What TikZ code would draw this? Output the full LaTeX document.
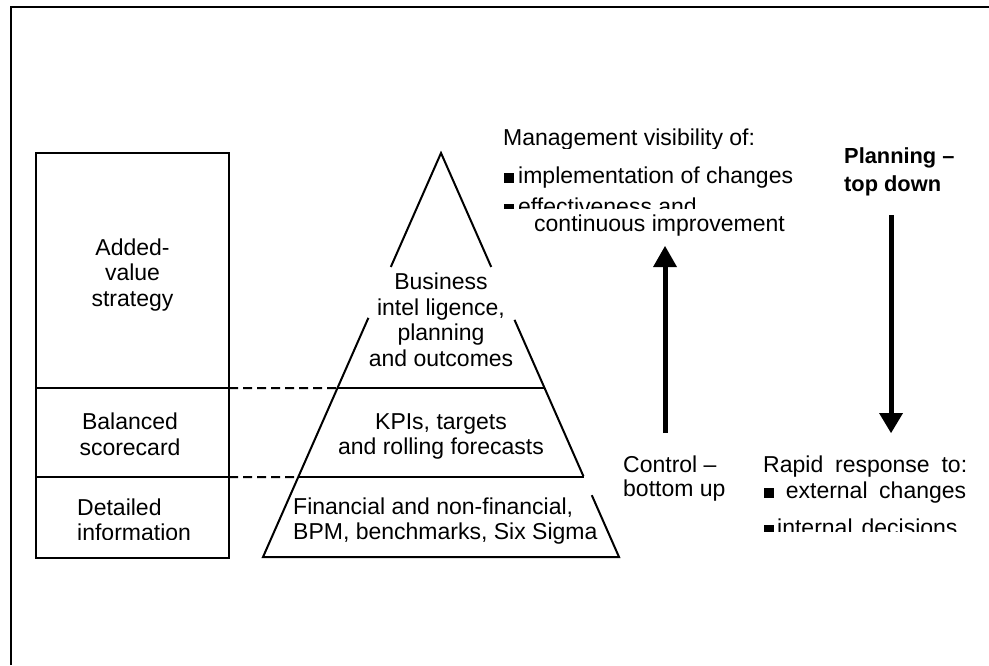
\documentclass[tikz,border=0pt]{standalone}
\usepackage{fontspec}
\setmainfont{Liberation Sans}
\usetikzlibrary{calc}

\newcommand{\sqbul}{\rule{10pt}{10pt}}

\begin{document}
\begin{tikzpicture}[scale=0.35146]
			\tikzstyle{every node}+=[inner sep=0pt]
			\tikzstyle{txt}=[font=\fontsize{23}{25.5}\selectfont, align=center]
			\tikzstyle{txtl}=[font=\fontsize{23}{25.5}\selectfont, align=left]
			\tikzstyle{bold}=[font=\fontsize{21.8}{27.4}\selectfont\bfseries, align=left]
			\tikzstyle{ln}=[black, line width=2pt]
			\useasboundingbox (0,0) rectangle (98.9,-66.5);
			% frame
			\draw [ln] (1.07,-66.5) -- (1.07,-0.7) -- (98.9,-0.7);
			% left column
			\draw [ln] (3.6,-15.3) rectangle (22.9,-55.75);
			\draw [ln] (3.6,-38.8) -- (22.9,-38.8);
			\draw [ln] (3.6,-47.7) -- (22.9,-47.7);
			\node [txt] (addval) at (13.25,-27.46) {Added-\\value\\strategy};
			\node [txt] (bsc) at (13.0,-43.45) {Balanced\\scorecard};
			\begin{scope}
				\clip (3.7,-48) rectangle (22.8,-53.95);
				\node [txtl, anchor=north west] (detail) at (7.7,-49.86) {Detailed\\information};
			\end{scope}
			% pyramid
			\coordinate (apex) at (44.1,-15.3);
			\coordinate (bl) at (26.3,-55.7);
			\coordinate (br) at (61.9,-55.7);
			\draw [ln, line join=miter] ($(apex)!0.282!(bl)$) -- (apex) -- ($(apex)!0.282!(br)$);
			\draw [ln, line join=miter] ($(apex)!0.408!(bl)$) -- (bl) -- (br) -- ($(apex)!0.847!(br)$);
			\draw [ln] ($(apex)!0.80!(br)$) -- ($(apex)!0.413!(br)$);
			\draw [ln] ($(apex)!0.5817!(bl)$) -- ($(apex)!0.5817!(br)$);
			\draw [ln] ($(apex)!0.802!(bl)$) -- ($(apex)!0.802!(br)$);
			\draw [ln, dash pattern=on 9pt off 5pt] (22.9,-38.8) -- ($(apex)!0.5817!(bl)$);
			\draw [ln, dash pattern=on 9pt off 5pt] (22.9,-47.7) -- ($(apex)!0.802!(bl)$);
			\node [txt] (bi) at (44.1,-31.99) {Business\\intel ligence,\\planning\\and outcomes};
			\node [txt] (kpi) at (44.1,-43.66) {KPIs, targets\\and rolling forecasts};
			\node [txtl, anchor=north west] (fin) at (29.3,-49.76) {Financial and non-financial,\\BPM, benchmarks, Six Sigma};
			% management visibility
			\begin{scope}
				\clip (45,-10) rectangle (82,-14.8);
				\node [txtl, anchor=base west] (mgmt) at (50.3,-14.57) {Management visibility of:};
			\end{scope}
			\node [txtl, anchor=base west] (impl) at (50.4,-18.3) {\sqbul\hspace{4pt}implementation of changes};
			\begin{scope}
				\clip (45,-18.9) rectangle (82,-20.8);
				\node [txtl, anchor=base west] (eff) at (50.4,-21.4) {\sqbul\hspace{4pt}effectiveness and};
			\end{scope}
			\node [txtl, anchor=base west] (cont) at (53.4,-23.1) {continuous improvement};
			% planning
			\node [bold, anchor=north west] (plan) at (84.4,-14.76) {Planning --\\top down};
			% arrows
			\coordinate (uptail) at (66.5,-43.3);
			\coordinate (uphead) at (66.5,-26.7);
			\coordinate (uptip) at (66.5,-24.6);
			\draw [black, line width=5pt] (uptail) -- (uphead);
			\fill [black] (uptip) -- ($(uphead)+(-1.2,0)$) -- ($(uphead)+(1.2,0)$) -- cycle;
			\coordinate (dntail) at (89.1,-21.5);
			\coordinate (dnhead) at (89.1,-41.3);
			\coordinate (dntip) at (89.1,-43.3);
			\draw [black, line width=5pt] (dntail) -- (dnhead);
			\fill [black] (dntip) -- ($(dnhead)+(-1.2,0)$) -- ($(dnhead)+(1.2,0)$) -- cycle;
			% control / response
			\node [font=\fontsize{23}{24}\selectfont, align=left, anchor=north west] (ctrl) at (62.3,-45.6) {Control --\\bottom up};
			\node [txtl, anchor=base west] (rapid) at (76.3,-47.2) {\makebox[204pt][s]{Rapid response to:}};
			\node [txtl, anchor=base west] (ext) at (76.4,-49.8) {\makebox[202pt][s]{\sqbul{} external changes}};
			\begin{scope}
				\clip (75,-51) rectangle (98,-53.1);
				\node [txtl, anchor=base west] (int) at (76.4,-53.5) {\sqbul\hspace{3pt}internal\hspace{9pt}decisions};
			\end{scope}
		\end{tikzpicture}
\end{document}
